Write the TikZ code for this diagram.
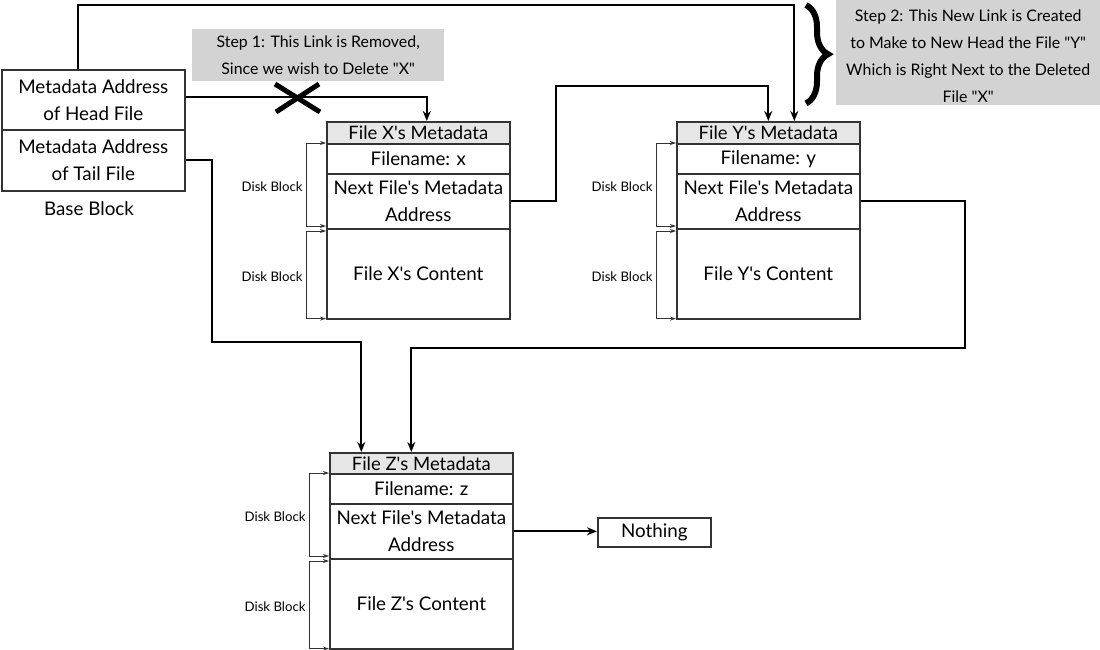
\documentclass[tikz,border=0pt]{standalone}
\usepackage{fontspec}
\setmainfont{Lato}[Ligatures=TeXOff]
\usetikzlibrary{arrows.meta,decorations.pathreplacing,calc}
\definecolor{hdrgray}{HTML}{E6E6E6}
\definecolor{notegray}{HTML}{D3D3D3}
\definecolor{boxline}{HTML}{333333}
\begin{document}
\begin{tikzpicture}[x=1pt,y=-1pt,
  cell/.style={draw=boxline, line width=1.6pt, minimum width=183pt, anchor=north west,
    inner sep=0pt, align=center, font=\fontsize{18.8}{27}\selectfont},
  hdr/.style={cell, fill=hdrgray, minimum height=22pt, font=\fontsize{18.5}{20}\selectfont},
  note/.style={fill=notegray, anchor=north west, inner sep=0pt, align=center,
    font=\fontsize{15.9}{27}\selectfont},
  conn/.style={line width=2pt, -{Stealth[length=10pt,width=8pt]}},
  bk/.style={draw=boxline, line width=0.9pt, {Stealth[length=6pt,width=4pt]}-{Stealth[length=6pt,width=4pt]}},
  disk/.style={font=\fontsize{13.2}{14}\selectfont, inner sep=3pt, yshift=-2pt},
  lbl/.style={font=\fontsize{18.8}{20}\selectfont}
]
\useasboundingbox (0,0) rectangle (1100,650);

% base block
\node[cell, minimum height=60pt] (head) at (1,69) {Metadata Address\\of Head File};
\node[cell, minimum height=61pt] (tail) at (1,129) {Metadata Address\\of Tail File};
\node[lbl] (baselbl) at (89,209) {Base Block};

% notes
\node[note, minimum width=252pt, minimum height=52pt] (step1) at (192,29)
  {Step 1: This Link is Removed,\\Since we wish to Delete "X"};
\node[note, minimum width=264pt, minimum height=105pt] (step2) at (836,0)
  {\rule{0pt}{18pt}Step 2: This New Link is Created\\to Make to New Head the File "Y"\\Which is Right Next to the Deleted\\File "X"};
\draw[line width=6pt, decorate, decoration={brace, amplitude=22pt}]
  ([xshift=-30pt,yshift=-5pt]step2.north west) -- ([xshift=-30pt,yshift=2pt]step2.south west);

% file X
\node[hdr] (xhead) at (326,121) {File X's Metadata};
\node[cell, minimum height=30pt] (xfname) at (326,143) {Filename: x};
\node[cell, minimum height=55pt] (xnext) at (326,173) {Next File's Metadata\\Address};
\node[cell, minimum height=90pt] (xcont) at (326,228) {File X's Content};

% file Y
\node[hdr] (yhead) at (676,121) {File Y's Metadata};
\node[cell, minimum height=30pt] (yfname) at (676,143) {Filename: y};
\node[cell, minimum height=55pt] (ynext) at (676,173) {Next File's Metadata\\Address};
\node[cell, minimum height=90pt] (ycont) at (676,228) {File Y's Content};

% file Z
\node[hdr, minimum height=21pt] (zhead) at (329,452) {File Z's Metadata};
\node[cell, minimum height=30pt] (zfname) at (329,473) {Filename: z};
\node[cell, minimum height=55pt] (znext) at (329,503) {Next File's Metadata\\Address};
\node[cell, minimum height=90pt] (zcont) at (329,558) {File Z's Content};

\node[cell, minimum width=113pt, minimum height=29pt] (nothing) at (597,517) {Nothing};

% disk block brackets
\draw[bk] (xfname.north west) -- ++(-20,0) -- node[disk, left] {Disk Block}
  ($([yshift=2pt]xcont.north west)+(-20,0)$) -- ([yshift=2pt]xcont.north west);
\draw[bk] ([yshift=-3pt]xcont.north west) -- ++(-20,0) -- node[disk, left] {Disk Block}
  ($([yshift=1pt]xcont.south west)+(-20,0)$) -- ([yshift=1pt]xcont.south west);
\draw[bk] (yfname.north west) -- ++(-20,0) -- node[disk, left] {Disk Block}
  ($([yshift=2pt]ycont.north west)+(-20,0)$) -- ([yshift=2pt]ycont.north west);
\draw[bk] ([yshift=-3pt]ycont.north west) -- ++(-20,0) -- node[disk, left] {Disk Block}
  ($([yshift=1pt]ycont.south west)+(-20,0)$) -- ([yshift=1pt]ycont.south west);
\draw[bk] (zfname.north west) -- ++(-20,0) -- node[disk, left] {Disk Block}
  ($([yshift=2pt]zcont.north west)+(-20,0)$) -- ([yshift=2pt]zcont.north west);
\draw[bk] ([yshift=-3pt]zcont.north west) -- ++(-20,0) -- node[disk, left] {Disk Block}
  ($([yshift=1pt]zcont.south west)+(-20,0)$) -- ([yshift=1pt]zcont.south west);

% connectors
\draw[conn] ([yshift=3pt]head.east) -| ([xshift=8.5pt]xhead.north);
\draw[line width=5pt] (275,84) -- (320,112) (276,112) -- (319,84);
\draw[conn] ([xshift=77pt]head.north west) -- ++(0,-64) -| ([xshift=26pt]yhead.north);
\draw[conn] (xnext.east) -- ++(45,0) |- ([yshift=35pt]yhead.north) -- (yhead.north);
\draw[conn] (tail.east) -- ++(26,0) |- ([xshift=-60pt,yshift=110pt]zhead.north) -- ([xshift=-60pt]zhead.north);
\draw[conn] (ynext.east) -- ++(104,0) |- ([xshift=-10pt,yshift=104pt]zhead.north) -- ([xshift=-10pt]zhead.north);
\draw[conn] (znext.east) -- (znext.east -| nothing.west);
\end{tikzpicture}
\end{document}
